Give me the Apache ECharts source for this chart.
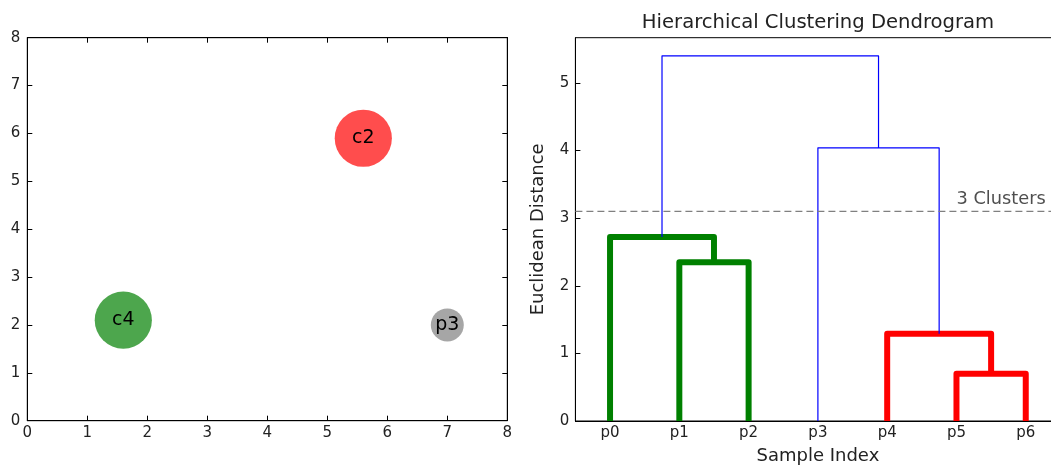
<!DOCTYPE html>
<html>
<head>
<meta charset="utf-8">
<script src="https://cdn.jsdelivr.net/npm/echarts@6/dist/echarts.min.js"></script>
<style>
html,body{margin:0;padding:0;background:#fff;}
#chart{width:1051px;height:466px;}
</style>
</head>
<body>
<div id="chart"></div>
<script>
// ---- data ----
const scatterNames = ['c2', 'c4', 'p3'];
const scatterX = [5.6, 1.6, 7.0];
const scatterY = [5.9, 2.1, 2.0];
const scatterCount = [3, 3, 1];
const scatterTicks = [0, 1, 2, 3, 4, 5, 6, 7, 8];

const leaves = ['p0', 'p1', 'p2', 'p3', 'p4', 'p5', 'p6'];
// scipy-style linkage: [childA, childB, height]; new cluster ids start at leaves.length
const linkage = [
  [5, 6, 0.70],
  [4, 7, 1.29],
  [1, 2, 2.35],
  [0, 9, 2.72],
  [3, 8, 4.04],
  [10, 11, 5.40]
];
const cutHeight = 3.1;
const cutLabel = '3 Clusters';
const cutLabelX = 55;
const distanceTicks = [0, 1, 2, 3, 4, 5];

// ---- styles ----
const FONT = 'DejaVu Sans';
const TXT = '#222';
const pointColors = { c2: '#ff4d4d', c4: '#4da64d', p3: '#a6a6a6' };
const groupColors = ['#008000', '#ff0000'];
const aboveColor = '#0000ff';

// ---- dendrogram layout ----
const n = leaves.length;
const nodes = [];
for (let i = 0; i < n; i++) nodes.push({ h: 0, children: null });
linkage.forEach(l => nodes.push({ h: l[2], children: [l[0], l[1]] }));
const root = nodes.length - 1;
const order = [];
(function walk(id) {
  const nd = nodes[id];
  if (!nd.children) { order.push(id); return; }
  walk(nd.children[0]); walk(nd.children[1]);
})(root);
order.forEach((leaf, i) => { nodes[leaf].x = 5 + 10 * i; });
(function pos(id) {
  const nd = nodes[id];
  if (!nd.children) return nd.x;
  nd.x = (pos(nd.children[0]) + pos(nd.children[1])) / 2;
  return nd.x;
})(root);
nodes.forEach((nd, id) => { if (nd.children) nd.children.forEach(c => nodes[c].parent = id); });
const groupRoots = [];
nodes.forEach((nd, id) => {
  if (nd.children && nd.h < cutHeight && (nd.parent === undefined || nodes[nd.parent].h >= cutHeight)) groupRoots.push(id);
});
groupRoots.sort((a, b) => nodes[a].x - nodes[b].x);
groupRoots.forEach((g, i) => {
  (function mark(id) { nodes[id].color = groupColors[i % groupColors.length]; if (nodes[id].children) nodes[id].children.forEach(mark); })(g);
});
const linkData = [];
nodes.forEach((nd) => {
  if (!nd.children) return;
  const a = nodes[nd.children[0]], b = nodes[nd.children[1]];
  const below = nd.h < cutHeight;
  linkData.push({
    coords: [[a.x, a.h], [a.x, nd.h], [b.x, nd.h], [b.x, b.h]],
    lineStyle: { color: below ? nd.color : aboveColor, width: below ? 6 : 1.2 }
  });
});

const chart = echarts.init(document.getElementById('chart'), null, { renderer: 'canvas' });

const tickStyle = { show: true, inside: true, length: 5, lineStyle: { color: '#000', width: 1 } };
const labelStyle = { color: TXT, fontFamily: FONT, fontSize: 15 };

chart.setOption({
  animation: false,
  backgroundColor: '#fff',
  graphic: [{
    type: 'text', x: 818, y: 23,
    style: { text: 'Hierarchical Clustering Dendrogram', fontFamily: FONT, fontSize: 19.6, fill: TXT, align: 'center', verticalAlign: 'middle' }
  }],
  grid: [
    { left: 27.3, top: 37.7, width: 480, height: 383, show: true, borderColor: '#000', borderWidth: 1, backgroundColor: 'transparent', containLabel: false, outerBoundsMode: 'none' },
    { left: 575.4, top: 37.7, width: 485, height: 383.3, show: true, borderColor: '#000', borderWidth: 1, backgroundColor: 'transparent', containLabel: false, outerBoundsMode: 'none' }
  ],
  xAxis: [
    { type: 'value', gridIndex: 0, min: 0, max: 8, interval: 1, position: 'bottom',
      axisLine: { show: true, onZero: false, lineStyle: { color: '#000' } }, axisTick: tickStyle, splitLine: { show: false },
      axisLabel: Object.assign({ margin: 5, formatter: v => String(v) }, labelStyle) },
    { type: 'value', gridIndex: 0, min: 0, max: 8, interval: 1, position: 'top',
      axisLine: { show: true, onZero: false, lineStyle: { color: '#000' } }, axisTick: tickStyle, splitLine: { show: false },
      axisLabel: { show: false } },
    { type: 'value', gridIndex: 1, min: 0, max: 70, position: 'bottom',
      axisLine: { show: true, onZero: false, lineStyle: { color: '#000' } }, axisTick: { show: false }, splitLine: { show: false },
      axisLabel: Object.assign({ margin: 5, customValues: order.map(l => nodes[l].x), formatter: v => { const i = order.findIndex(l => nodes[l].x === v); return i >= 0 ? leaves[order[i]] : ''; } }, labelStyle),
      name: 'Sample Index', nameLocation: 'middle', nameGap: 26,
      nameTextStyle: { color: TXT, fontFamily: FONT, fontSize: 18 } }
  ],
  yAxis: [
    { type: 'value', gridIndex: 0, min: 0, max: 8, interval: 1, position: 'left',
      axisLine: { show: true, onZero: false, lineStyle: { color: '#000' } }, axisTick: tickStyle, splitLine: { show: false },
      axisLabel: Object.assign({ margin: 7, formatter: v => String(v) }, labelStyle) },
    { type: 'value', gridIndex: 0, min: 0, max: 8, interval: 1, position: 'right',
      axisLine: { show: true, onZero: false, lineStyle: { color: '#000' } }, axisTick: tickStyle, splitLine: { show: false },
      axisLabel: { show: false } },
    { type: 'value', gridIndex: 1, min: 0, max: 5.67, position: 'left',
      axisLine: { show: true, onZero: false, lineStyle: { color: '#000' } },
      axisTick: Object.assign({ customValues: distanceTicks }, tickStyle), splitLine: { show: false },
      axisLabel: Object.assign({ margin: 6, customValues: distanceTicks, formatter: v => String(v) }, labelStyle),
      name: 'Euclidean Distance', nameLocation: 'middle', nameGap: 28,
      nameTextStyle: { color: TXT, fontFamily: FONT, fontSize: 18 } }
  ],
  series: [
    {
      type: 'scatter', xAxisIndex: 0, yAxisIndex: 0,
      data: scatterNames.map((nm, i) => ({
        name: nm, value: [scatterX[i], scatterY[i]],
        symbolSize: Math.sqrt(scatterCount[i]) * 33,
        itemStyle: { color: pointColors[nm], opacity: 1 }
      })),
      label: { show: true, position: 'inside', formatter: p => p.name, color: '#000', fontFamily: FONT, fontSize: 19 }
    },
    {
      type: 'lines', coordinateSystem: 'cartesian2d', xAxisIndex: 2, yAxisIndex: 2, polyline: true,
      data: linkData,
      lineStyle: { join: 'round', cap: 'butt', opacity: 1 },
      silent: true
    },
    {
      type: 'line', xAxisIndex: 2, yAxisIndex: 2, symbol: 'none',
      data: [[0, cutHeight], [70, cutHeight]],
      lineStyle: { color: '#808080', width: 1.2, type: [7, 4] }
    },
    {
      type: 'scatter', xAxisIndex: 2, yAxisIndex: 2, symbolSize: 0,
      data: [[cutLabelX, cutHeight]],
      label: { show: true, position: [0, -3], align: 'left', verticalAlign: 'bottom', formatter: cutLabel, color: TXT, fontFamily: FONT, fontSize: 17.8 }
    }
  ]
});
</script>
</body>
</html>
